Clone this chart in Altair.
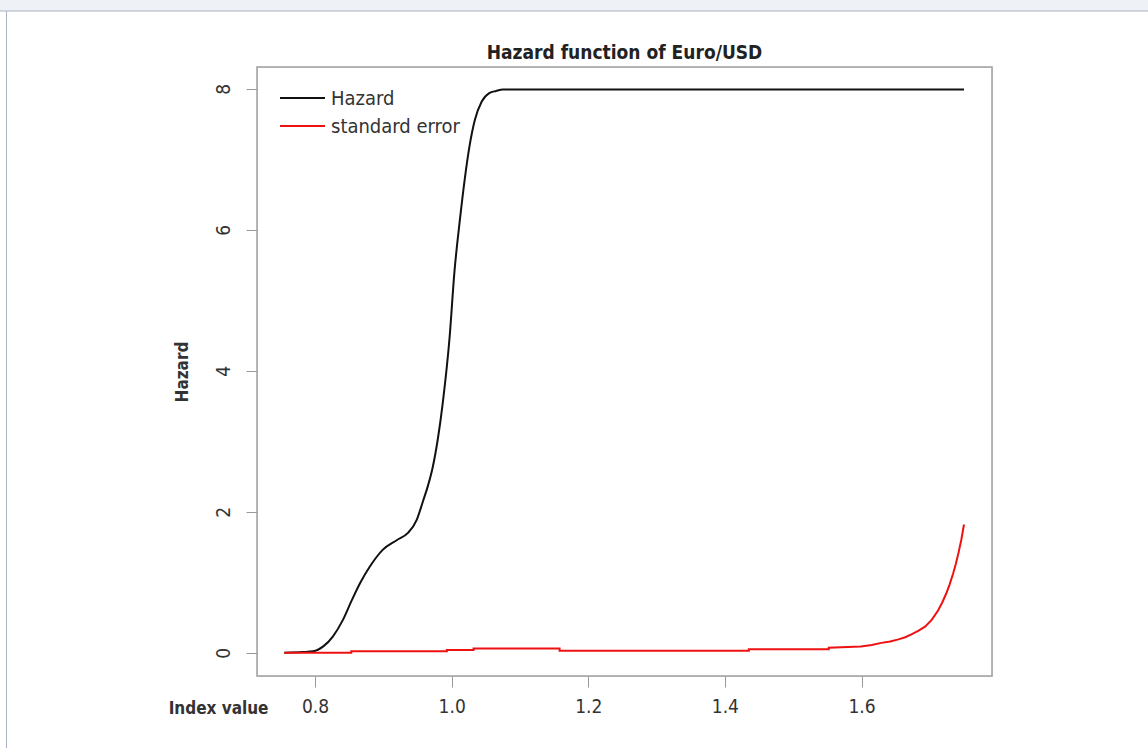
import altair as alt
import pandas as pd

# Hazard curve
haz_x = [0.755, 0.782, 0.797, 0.812, 0.826, 0.841, 0.854, 0.866, 0.880, 0.899,
         0.920, 0.936, 0.949, 0.958, 0.965, 0.972, 0.980, 0.987, 0.997, 1.004,
         1.012, 1.019, 1.026, 1.034, 1.044, 1.055, 1.065, 1.075, 1.200, 1.400,
         1.600, 1.750]
haz_y = [0.00, 0.01, 0.02, 0.09, 0.23, 0.47, 0.75, 0.99, 1.22, 1.46,
         1.60, 1.70, 1.89, 2.15, 2.36, 2.62, 3.05, 3.55, 4.48, 5.40,
         6.14, 6.71, 7.18, 7.56, 7.82, 7.94, 7.97, 7.99, 7.99, 7.99,
         7.99, 7.99]

# Standard error curve
se_x = [0.755, 0.853, 0.853, 0.993, 0.993, 1.032, 1.032, 1.158, 1.158, 1.435,
        1.435, 1.552, 1.552, 1.599, 1.615, 1.629, 1.642, 1.654, 1.664, 1.673,
        1.683, 1.693, 1.703, 1.712, 1.718, 1.724, 1.729, 1.734, 1.738, 1.742,
        1.746, 1.750]
se_y = [0.00, 0.00, 0.02, 0.02, 0.04, 0.04, 0.06, 0.06, 0.03, 0.03,
        0.05, 0.05, 0.07, 0.09, 0.11, 0.14, 0.16, 0.19, 0.22, 0.26,
        0.31, 0.37, 0.47, 0.60, 0.71, 0.84, 0.97, 1.12, 1.26, 1.42,
        1.60, 1.82]

series_names = ["Hazard", "standard error"]
series_colors = ["#111111", "#ee1111"]
x_ticks = [0.8, 1.0, 1.2, 1.4, 1.6]
y_ticks = [0, 2, 4, 6, 8]
title_text = "Hazard function of Euro/USD"

haz_df = pd.DataFrame({"series": series_names[0], "x": haz_x, "y": haz_y,
                       "order": range(len(haz_x))})
se_df = pd.DataFrame({"series": series_names[1], "x": se_x, "y": se_y,
                      "order": range(len(se_x))})

FONT = "Liberation Sans Narrow, DejaVu Sans Condensed, sans-serif"
W, H = 735, 609
PL, PT = 257, 67

color_enc = alt.Color("series:N",
                      scale=alt.Scale(domain=series_names, range=series_colors),
                      legend=None)
x_axis = alt.Axis(values=x_ticks, format=".1f", grid=False, domain=False,
                  tickSize=11, tickColor="#999999", labelFontSize=19,
                  labelColor="#333333", labelFont=FONT, labelPadding=10,
                  title="Index value", titleFont=FONT, titleFontSize=17,
                  titleFontWeight="bold", titleColor="#333333",
                  titleX=11, titleY=32, titleAlign="right",
                  titleBaseline="middle", titleAngle=0)
y_axis = alt.Axis(values=y_ticks, format="d", grid=False, domain=False,
                  tickSize=11, tickColor="#999999", labelFontSize=19,
                  labelColor="#333333", labelFont=FONT, labelAngle=-90,
                  labelAlign="center", labelBaseline="bottom",
                  labelPadding=13,
                  title="Hazard", titleFont=FONT, titleFontSize=17,
                  titleFontWeight="bold", titleColor="#333333",
                  titleX=-74.5, titleY=H / 2, titleAngle=-90,
                  titleAlign="center", titleBaseline="middle")
x_scale = alt.Scale(domain=[0.715, 1.791], nice=False, zero=False)
y_scale = alt.Scale(domain=[-0.33, 8.31], nice=False, zero=False)

haz_line = alt.Chart(haz_df).mark_line(strokeWidth=2, clip=True,
                                       interpolate="monotone").encode(
    x=alt.X("x:Q", scale=x_scale, axis=x_axis),
    y=alt.Y("y:Q", scale=y_scale, axis=y_axis),
    color=color_enc, order="order:Q")
se_line = alt.Chart(se_df).mark_line(strokeWidth=2, clip=True).encode(
    x=alt.X("x:Q", scale=x_scale, axis=x_axis),
    y=alt.Y("y:Q", scale=y_scale, axis=y_axis),
    color=color_enc, order="order:Q")

# legend (drawn by hand, R style)
one = pd.DataFrame({"a": [0]})
legend_layers = []
for i, (name, col) in enumerate(zip(series_names, series_colors)):
    ly = 31 + 28 * i
    legend_layers.append(alt.Chart(one).mark_rule(color=col, strokeWidth=2).encode(
        x=alt.value(23), x2=alt.value(68), y=alt.value(ly)))
    legend_layers.append(alt.Chart(one).mark_text(
        text=name, font=FONT, fontSize=20, color="#333333", align="left",
        baseline="middle").encode(x=alt.value(74), y=alt.value(ly + 1)))

title = alt.Chart(one).mark_text(
    text=title_text, font=FONT, fontSize=19, fontWeight="bold", color="#222222",
    align="center", baseline="alphabetic").encode(
    x=alt.value(W / 2), y=alt.value(-8))

# plot box (R style)
box = alt.Chart(one).mark_rect(fill=None, stroke="#a0a0a0", strokeWidth=1.5).encode(
    x=alt.value(0), x2=alt.value(W), y=alt.value(0), y2=alt.value(H))

# page frame decorations
frame_top = alt.Chart(one).mark_rect(
    color="#eef1f5", stroke="#a9b3c2", strokeWidth=1).encode(
    x=alt.value(-PL - 2), x2=alt.value(1148 - PL + 2),
    y=alt.value(-PT - 2), y2=alt.value(-PT + 11))
frame_left = alt.Chart(one).mark_rule(color="#a9b3c2", strokeWidth=1).encode(
    x=alt.value(-PL + 6.5), y=alt.value(-PT + 11), y2=alt.value(748 - PT))

chart = alt.layer(frame_top, frame_left, box, haz_line, se_line, title,
                  *legend_layers).properties(
    width=W, height=H,
    autosize=alt.AutoSizeParams(type="none"),
    padding={"left": PL, "top": PT, "right": 1148 - PL - W, "bottom": 748 - PT - H},
).configure_view(stroke=None).configure(background="white")

chart.save("out.html", embed_options={"renderer": "svg", "actions": False})
